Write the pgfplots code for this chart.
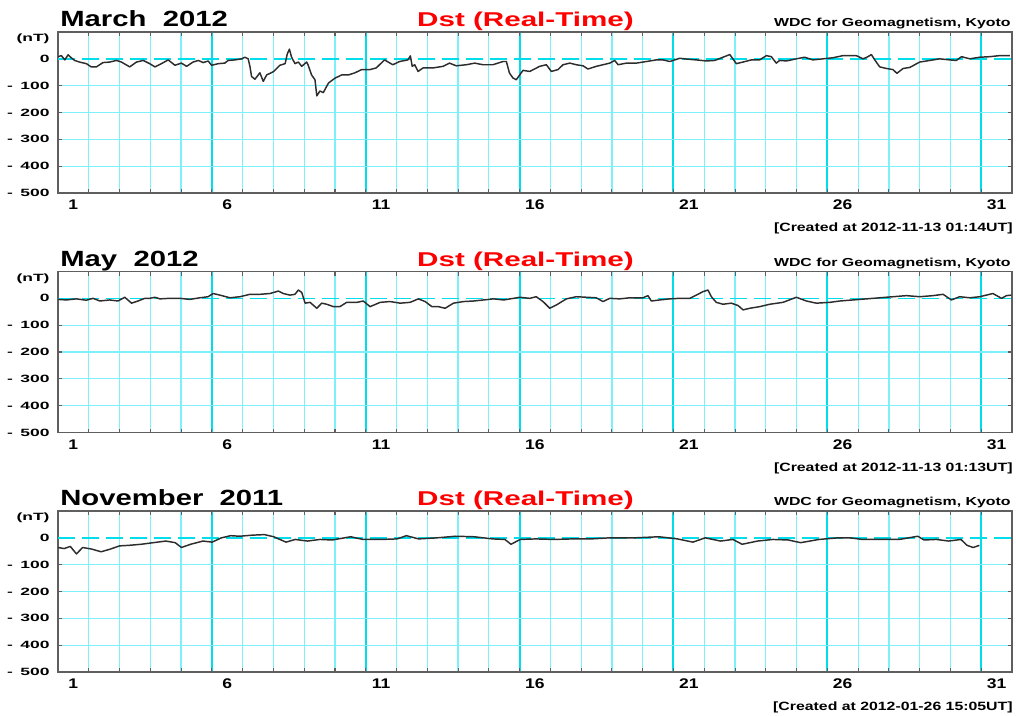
\documentclass[border=0pt]{standalone}
\usepackage{fontspec}
\setmainfont{Liberation Sans}
\usepackage{pgfplots}
\pgfplotsset{compat=1.18}

\definecolor{gridthin}{RGB}{125,240,250}
\definecolor{gridthick}{RGB}{0,222,236}
\definecolor{frame}{RGB}{95,95,95}
\definecolor{trace}{RGB}{45,45,45}
\definecolor{dstred}{RGB}{255,0,0}

% hourly Dst, day of month (fractional) vs nT
\pgfplotstableread{
x y
1.00 8
1.11 12
1.22 -4
1.33 15
1.43 4
1.54 -6
1.70 -12
1.92 -18
2.08 -30
2.25 -30
2.46 -14
2.68 -12
2.90 -6
3.06 -12
3.33 -30
3.55 -12
3.77 -6
3.98 -18
4.15 -30
4.36 -18
4.58 -4
4.80 -24
5.01 -16
5.18 -28
5.39 -12
5.56 -6
5.72 -14
5.88 -8
5.99 -24
6.21 -18
6.42 -16
6.53 -6
6.75 -4
6.97 0
7.07 6
7.18 0
7.24 -30
7.29 -66
7.40 -76
7.56 -52
7.67 -84
7.78 -60
8.00 -48
8.21 -24
8.38 -18
8.45 18
8.52 36
8.59 6
8.70 -18
8.81 -12
8.92 -28
9.08 -12
9.13 -24
9.24 -60
9.35 -78
9.41 -138
9.51 -120
9.62 -126
9.79 -90
10.00 -72
10.22 -60
10.44 -60
10.65 -52
10.87 -40
11.14 -40
11.34 -34
11.61 -4
11.88 -22
12.10 -10
12.37 -4
12.45 11
12.51 -28
12.59 -22
12.70 -47
12.86 -34
13.18 -34
13.51 -28
13.72 -16
13.94 -26
14.27 -22
14.54 -16
14.81 -22
15.13 -22
15.46 -10
15.57 -10
15.67 -53
15.78 -71
15.89 -78
16.11 -43
16.33 -47
16.65 -28
16.87 -22
17.03 -47
17.25 -40
17.41 -22
17.63 -16
17.84 -22
18.06 -26
18.22 -38
18.49 -28
18.71 -22
18.93 -16
19.09 -6
19.20 -22
19.47 -16
19.79 -16
20.12 -10
20.44 -4
20.66 -4
20.88 -10
21.20 2
21.53 -2
21.74 -4
22.07 -8
22.34 -6
22.61 6
22.83 16
22.93 0
23.04 -18
23.26 -12
23.53 -4
23.80 -4
24.02 12
24.18 8
24.34 -16
24.45 -6
24.67 -8
24.99 0
25.26 6
25.53 -4
25.86 0
26.18 4
26.51 12
26.94 12
27.16 0
27.32 8
27.43 16
27.54 -4
27.70 -30
27.92 -36
28.13 -40
28.26 -54
28.46 -36
28.68 -32
29.00 -12
29.33 -6
29.65 0
29.98 -4
30.19 -6
30.36 8
30.63 0
30.95 6
31.28 8
31.60 12
31.93 12
}\dstmarch

\pgfplotstableread{
x y
1.00 -4
1.27 -6
1.60 -2
1.92 -7
2.14 0
2.36 -10
2.68 -6
2.95 -10
3.17 4
3.39 -18
3.60 -10
3.82 0
3.98 0
4.15 4
4.31 -2
4.63 0
4.96 0
5.28 -4
5.61 2
5.88 6
6.04 18
6.26 12
6.59 2
6.91 6
7.24 15
7.56 15
7.89 18
8.16 27
8.32 18
8.54 12
8.70 15
8.81 31
8.92 22
9.03 -18
9.19 -15
9.41 -37
9.57 -18
9.73 -22
9.95 -31
10.16 -31
10.38 -15
10.71 -15
10.92 -10
11.14 -31
11.47 -15
11.79 -12
12.12 -18
12.44 -15
12.71 -2
12.93 -12
13.15 -31
13.36 -31
13.58 -37
13.85 -18
14.18 -12
14.50 -10
14.83 -6
15.15 -2
15.48 -6
15.91 2
16.00 4
16.33 0
16.54 6
16.76 -12
16.98 -37
17.19 -25
17.52 -2
17.84 6
18.17 4
18.49 2
18.71 -12
18.93 0
19.25 -2
19.58 2
20.01 2
20.17 10
20.28 -10
20.55 -6
20.88 -2
21.20 0
21.53 0
21.74 12
21.96 25
22.12 31
22.23 6
22.39 -15
22.61 -22
22.88 -18
23.10 -27
23.26 -43
23.48 -37
23.80 -31
24.13 -22
24.56 -15
24.99 4
25.32 -10
25.64 -18
26.08 -15
26.40 -10
26.83 -6
27.27 -2
27.70 2
28.13 6
28.57 10
29.00 6
29.43 10
29.76 15
30.03 -6
30.30 6
30.63 2
30.95 6
31.38 18
31.66 0
31.82 10
31.98 12
}\dstmay

\pgfplotstableread{
x y
1.00 -36
1.20 -40
1.40 -32
1.60 -60
1.80 -36
2.10 -42
2.40 -52
2.70 -42
3.00 -30
3.30 -28
3.70 -24
4.10 -18
4.50 -12
4.81 -18
5.01 -36
5.31 -24
5.71 -12
6.01 -16
6.31 0
6.61 8
6.91 6
7.31 10
7.71 12
8.01 4
8.41 -16
8.71 -6
9.11 -12
9.51 -6
9.91 -8
10.51 4
10.91 -6
11.51 -6
12.02 -4
12.32 8
12.72 -4
13.32 0
13.92 6
14.52 4
15.12 -4
15.52 -6
15.72 -24
16.02 -6
16.52 -4
17.12 -6
17.72 -4
18.32 -4
18.93 0
19.73 0
20.53 4
21.13 -4
21.63 -16
22.03 0
22.53 -12
22.93 -6
23.23 -24
23.73 -12
24.23 -6
24.73 -8
25.13 -18
25.73 -6
26.34 0
26.74 0
27.14 -6
27.74 -6
28.34 -6
28.94 6
29.14 -8
29.54 -6
29.94 -12
30.34 -6
30.54 -28
30.74 -36
30.94 -28
}\dstnov

\pgfplotsset{
  dstpanel/.style={
    scale only axis, width=715.5pt, height=120.75pt, anchor=south west,
    xmin=1, xmax=32, ymin=-500, ymax=100,
    clip mode=individual,
    xtick={1,6,11,16,21,26,31},
    xticklabels={1,6,11,16,21,26,31},
    minor xtick={2,3,4,5,7,8,9,10,12,13,14,15,17,18,19,20,22,23,24,25,27,28,29,30},
    ytick={-500,-400,-300,-200,-100},
    yticklabels={-\hspace{0.42em}500,-\hspace{0.42em}400,-\hspace{0.42em}300,-\hspace{0.42em}200,-\hspace{0.42em}100},
    extra y ticks={0}, extra y tick labels={0},
    extra y tick style={grid=none},
    xmajorgrids, xminorgrids, ymajorgrids,
    major x grid style={gridthick, line width=1.5pt},
    minor x grid style={gridthin, line width=0.9pt},
    major y grid style={gridthin, line width=0.9pt},
    axis line style={frame, line width=1.3pt},
    major tick length=3pt, minor tick length=3pt,
    tick style={frame, line width=0.8pt},
    xticklabel style={font=\fontsize{10.5}{12}\selectfont\bfseries,
      anchor=north, inner sep=0pt, yshift=-5pt, xshift=11.5pt, xscale=1.25},
    yticklabel style={font=\fontsize{7.9}{9}\selectfont\bfseries,
      anchor=east, inner sep=0pt, xshift=-6pt, xscale=1.66},
  },
}

\tikzset{
  dstline/.style={trace, line width=1.1pt, line join=round},
  zeroline/.style={gridthick, line width=1.2pt, dash pattern=on 13pt off 5pt},
  month/.style={anchor=base west, inner sep=0pt, font=\fontsize{16.5}{18}\selectfont\bfseries, xscale=1.33},
  index/.style={anchor=base, inner sep=0pt, text=dstred, font=\fontsize{15}{18}\selectfont\bfseries, xscale=1.48},
  source/.style={anchor=base east, inner sep=0pt, font=\fontsize{8.7}{10}\selectfont\bfseries, xscale=1.37},
  stamp/.style={anchor=base east, inner sep=0pt, font=\fontsize{9}{11}\selectfont\bfseries, xscale=1.32},
  unit/.style={anchor=east, inner sep=0pt, xshift=-6pt, font=\fontsize{7.9}{9}\selectfont\bfseries, xscale=1.66},
}

\begin{document}
\begin{tikzpicture}
\useasboundingbox (0,0) rectangle (762pt,536.25pt);

% ---- March 2012 ----
\node[month] at (45pt,516.2pt) {March\ \ 2012};
\node[index] at (394.1pt,516.2pt) {Dst (Real-Time)};
\node[source] at (758.25pt,516.2pt) {WDC for Geomagnetism, Kyoto};
\begin{axis}[dstpanel, at={(43.5pt,391.5pt)}]
  \draw[zeroline] (axis cs:1,0) -- (axis cs:32,0);
  \addplot[dstline] table[x=x,y=y] {\dstmarch};
  \node[unit] at (axis cs:1,74) {(nT)};
\end{axis}
\node[stamp] at (759.75pt,362.5pt) {[Created at 2012-11-13 01:14UT]};

% ---- May 2012 ----
\node[month] at (45pt,336.575pt) {May\ \ 2012};
\node[index] at (394.1pt,336.575pt) {Dst (Real-Time)};
\node[source] at (758.25pt,336.575pt) {WDC for Geomagnetism, Kyoto};
\begin{axis}[dstpanel, at={(43.5pt,211.875pt)}]
  \draw[zeroline] (axis cs:1,0) -- (axis cs:32,0);
  \addplot[dstline] table[x=x,y=y] {\dstmay};
  \node[unit] at (axis cs:1,74) {(nT)};
\end{axis}
\node[stamp] at (759.75pt,182.875pt) {[Created at 2012-11-13 01:13UT]};

% ---- November 2011 ----
\node[month] at (45pt,156.95pt) {November\ \ 2011};
\node[index] at (394.1pt,156.95pt) {Dst (Real-Time)};
\node[source] at (758.25pt,156.95pt) {WDC for Geomagnetism, Kyoto};
\begin{axis}[dstpanel, at={(43.5pt,32.25pt)}]
  \draw[zeroline] (axis cs:1,0) -- (axis cs:32,0);
  \addplot[dstline] table[x=x,y=y] {\dstnov};
  \node[unit] at (axis cs:1,74) {(nT)};
\end{axis}
\node[stamp] at (759.75pt,3.25pt) {[Created at 2012-01-26 15:05UT]};
\end{tikzpicture}
\end{document}
